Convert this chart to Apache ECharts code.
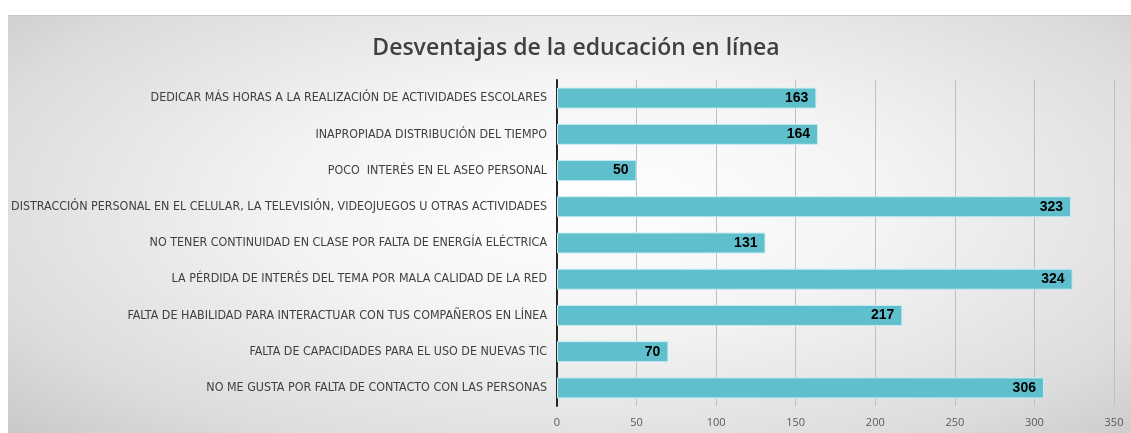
<!DOCTYPE html>
<html>
<head>
<meta charset="UTF-8">
<title>Desventajas de la educación en línea</title>
<style>
    body { margin: 0; background: #ffffff; }
    #chart {
        position: absolute; left: 8px; top: 15px; width: 1123px; height: 417px;
        border-top: 1px solid #c8c8c8;
        background: radial-gradient(ellipse 75% 85% at 52% 45%, #ffffff 0%, #f4f4f4 35%, #dcdcdc 75%, #c4c4c4 100%);
    }
</style>
</head>
<body>
<div id="chart"></div>
<script src="https://cdn.jsdelivr.net/npm/echarts@6/dist/echarts.min.js"></script>
<script>
    var categories = [
        'DEDICAR MÁS HORAS A LA REALIZACIÓN DE ACTIVIDADES ESCOLARES',
        'INAPROPIADA DISTRIBUCIÓN DEL TIEMPO',
        'POCO  INTERÉS EN EL ASEO PERSONAL',
        'DISTRACCIÓN PERSONAL EN EL CELULAR, LA TELEVISIÓN, VIDEOJUEGOS U OTRAS ACTIVIDADES',
        'NO TENER CONTINUIDAD EN CLASE POR FALTA DE ENERGÍA ELÉCTRICA',
        'LA PÉRDIDA DE INTERÉS DEL TEMA POR MALA CALIDAD DE LA RED',
        'FALTA DE HABILIDAD PARA INTERACTUAR CON TUS COMPAÑEROS EN LÍNEA',
        'FALTA DE CAPACIDADES PARA EL USO DE NUEVAS TIC',
        'NO ME GUSTA POR FALTA DE CONTACTO CON LAS PERSONAS'
    ];
    var values = [163, 164, 50, 323, 131, 324, 217, 70, 306];

    var myChart = echarts.init(document.getElementById('chart'));
    var option = {
        backgroundColor: 'transparent',
        animation: false,
        title: {
            text: 'Desventajas de la educación en línea',
            left: 563, top: 16, textAlign: 'center',
            textStyle: { fontFamily: 'Open Sans', fontSize: 23, fontWeight: 600, color: '#404040' }
        },
        grid: { left: 549, right: 17, top: 64, bottom: 27, outerBoundsMode: 'none', containLabel: false },
        xAxis: {
            type: 'value', min: 0, max: 350, interval: 50,
            axisLine: { show: false },
            axisTick: { show: false },
            splitLine: { show: true, lineStyle: { color: '#bfbfbf', width: 1 } },
            axisLabel: { color: '#595959', fontFamily: 'Open Sans', fontSize: 11, margin: 11 }
        },
        yAxis: {
            type: 'category', inverse: true, data: categories,
            axisLine: { show: true, lineStyle: { color: '#262626', width: 2 } },
            axisTick: { show: false },
            axisLabel: {
                color: '#404040', fontSize: 12.4, margin: 10,
                fontFamily: '"DejaVu Sans Condensed", "Liberation Sans Narrow", sans-serif'
            }
        },
        series: [{
            type: 'bar',
            data: values,
            barWidth: '58%',
            itemStyle: { color: '#5fbfcd', borderColor: '#c6ecf2', borderWidth: 1 },
            label: {
                show: true, position: 'insideRight', offset: [-3, 0],
                color: '#000000', fontFamily: 'Liberation Sans', fontWeight: 'bold', fontSize: 14
            }
        }]
    };
    myChart.setOption(option);
</script>
</body>
</html>
